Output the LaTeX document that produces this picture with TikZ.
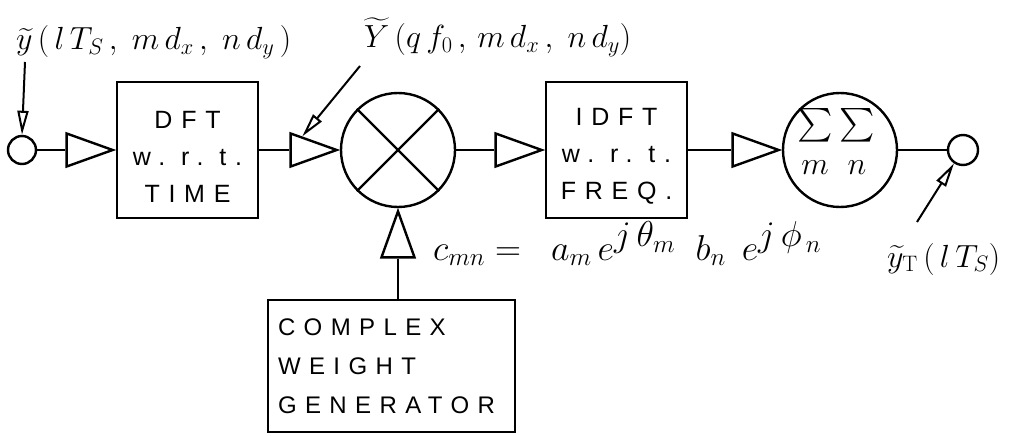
\RequirePackage{fix-cm}
\documentclass[tikz,border=0pt]{standalone}
\usepackage{amsmath}
\usepackage{exscale}
\usepackage{fontspec}
\newfontfamily\boxfont[LetterSpace=35]{Liberation Sans}
\usetikzlibrary{arrows.meta,shapes.geometric,calc}
\begin{document}
\begin{tikzpicture}[x=1pt,y=-1pt, line width=2.4pt,
  blk/.style={draw, rectangle, inner sep=0pt, minimum width=141pt, minimum height=136pt, align=center, font=\boxfont\fontsize{25}{37}\selectfont},
  ring/.style={draw, circle, inner sep=0pt},
  amp/.style={draw, isosceles triangle, isosceles triangle stretches, inner sep=0pt, minimum width=33pt, minimum height=46pt},
  sig/.style={-{Triangle[open,length=24pt,width=11pt]}, line width=2pt},
  lbl/.style={inner sep=0pt, font=\fontsize{32}{38}\selectfont},
  sumsym/.style={inner sep=0pt, scale=1.35, font=\fontsize{27}{27}\selectfont},
]
\useasboundingbox (0,0) rectangle (1013,436);
% main chain
\node[ring, minimum size=28pt] (in) at (22,150) {};
\node[blk] (dft) at (187.5,150) {\rule{0pt}{30pt}DFT\\ w.~r.~t.\\ TIME};
\node[amp, anchor=apex] (a1) at (dft.west) {};
\node[ring, minimum size=114pt] (mul) at (398,150) {};
\node[amp, anchor=apex] (a2) at (mul.west) {};
\node[blk] (idft) at (616.5,150) {\rule{0pt}{30pt}IDFT\\ w.~r.~t.\\ FREQ.};
\node[amp, anchor=apex] (a3) at (idft.west) {};
\node[ring, minimum size=114pt] (sum) at (840,150) {};
\node[amp, anchor=apex] (a4) at (sum.west) {};
\node[ring, minimum size=30pt] (out) at (963,150) {};
\node[draw, text width=227pt, inner xsep=10pt, inner ysep=0pt, minimum height=132pt, align=left, font=\boxfont\fontsize{24}{39}\selectfont] (cwg) at (391.5,366) {COMPLEX\\ WEIGHT\\ GENERATOR};
\node[amp, shape border rotate=90, anchor=apex] (a5) at (mul.south) {};
% symbols inside the summing circle
\node[sumsym] (s1) at ($(sum.center)+(-25,-25)$) {$\sum$};
\node[sumsym] (s2) at ($(sum.center)+(17,-25)$) {$\sum$};
\node[inner sep=0pt, anchor=base, font=\fontsize{32}{32}\selectfont] (sm) at ($(sum.center)+(-25,24)$) {$m$};
\node[inner sep=0pt, anchor=base, font=\fontsize{32}{32}\selectfont] (sn) at ($(sum.center)+(17,24)$) {$n$};
% cross
\draw (mul.north west) -- (mul.south east) (mul.north east) -- (mul.south west);
% connectors
\draw (in.east) -- (a1.lower side);
\draw (dft.east) -- (a2.lower side);
\draw (mul.east) -- (a3.lower side);
\draw (idft.east) -- (a4.lower side);
\draw (sum.east) -- (out.west);
\draw (a5.lower side) -- (a5.lower side |- cwg.north);
% labels
\node[lbl, anchor=base west] (ly) at (15,50) {$\widetilde{y}\,(\,l\,T_S\,,\; m\,d_x\,,\; n\,d_y\,)$};
\coordinate (ly1) at (25,62);
\draw[sig] (ly1) -- (in.north);
\node[lbl, anchor=base west] (lY) at (363,48) {$\widetilde{Y}\,(q\,f_0\,,\,m\,d_x\,,\;n\,d_y)$};
\coordinate (lY1) at (360,66);
\draw[sig] (lY1) -- (a2.north);
\node[lbl, anchor=base west] (lyT) at (886,267) {$\widetilde{y}_{\mathrm{T}}\,(\,l\,T_S)$};
\coordinate (lyT1) at (917,222);
\draw[sig] (lyT1) -- (out.236);
\node[inner sep=0pt, anchor=base west, font=\fontsize{36}{42}\selectfont] (cf) at (432,260) {$c_{mn} = \;\; a_m\, e^{\textstyle j\,\theta_m}\;\; b_n\;\, e^{\textstyle j\,\phi_{\,n}}$};
\end{tikzpicture}
\end{document}
